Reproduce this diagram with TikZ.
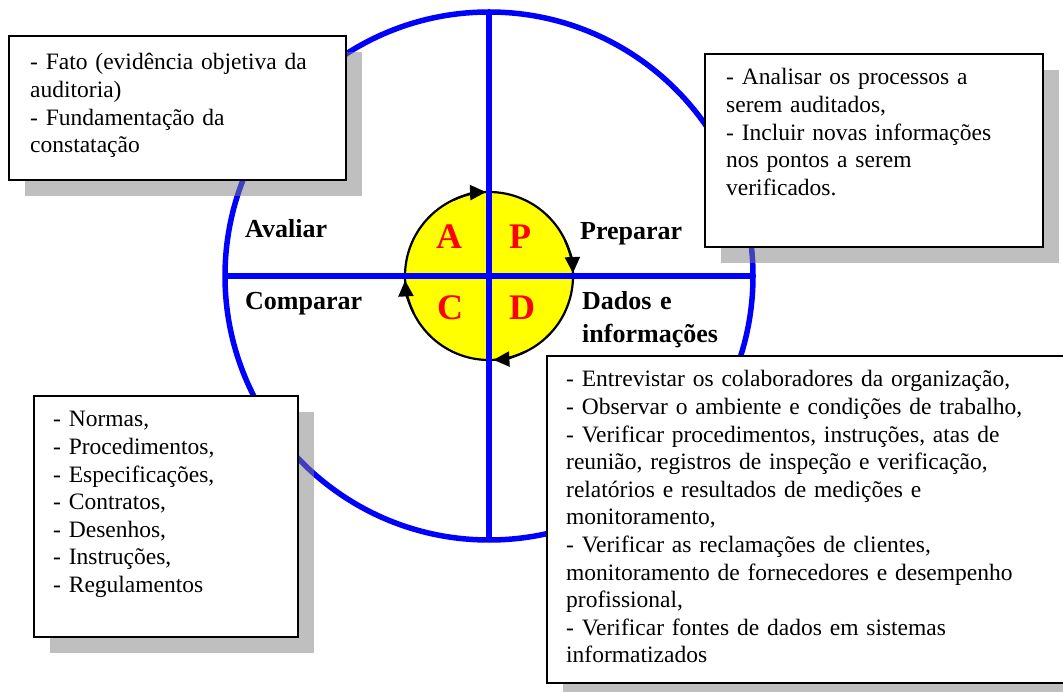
\documentclass[tikz,border=0pt]{standalone}
\usepackage{fontspec}
\setmainfont{Liberation Serif}
\usetikzlibrary{arrows.meta,shadows}
\definecolor{pdcablue}{RGB}{0,0,255}
\definecolor{pdcayellow}{RGB}{255,255,0}
\definecolor{pdcared}{RGB}{255,0,0}
\begin{document}
\begin{tikzpicture}[x=1pt,y=-1pt,
  ring/.style={draw=pdcablue, line width=5.5pt},
  axisline/.style={draw=pdcablue, line width=5.5pt},
  infobox/.style={draw=black, fill=white, line width=1.8pt, anchor=north west, inner sep=0pt,
    drop shadow={shadow xshift=16pt, shadow yshift=-16pt, fill=black!50, opacity=0.5}},
  boxtext/.style={anchor=base west, inner sep=0pt, text width=520pt, align=left,
    font=\fontsize{23.5}{27.6}\selectfont},
  phase/.style={anchor=base west, inner sep=0pt, text width=220pt, align=left,
    font=\bfseries\fontsize{26}{33}\selectfont},
  letter/.style={anchor=base, inner sep=0pt, text=pdcared, font=\bfseries\fontsize{36}{36}\selectfont},
  cyc/.style={-{Triangle[length=16pt,width=15pt]}, line width=2.2pt, draw=black}
]
\useasboundingbox (0,0) rectangle (1063,692);
\fill[white] (0,0) rectangle (1063,692);
\coordinate (c) at (489,276);
\coordinate (left) at (225,276);
\coordinate (right) at (753,276);
\coordinate (top) at (489,12);
\coordinate (bottom) at (489,540);
\draw[ring] (c) circle[radius=264];
\draw[draw=black, line width=2.2pt, fill=pdcayellow] (c) circle[radius=84];
\draw[axisline] (left) -- (right);
\draw[axisline] (top) -- (bottom);
% cycle arrows
\draw[cyc] (c) ++(-115:84) arc[start angle=-115, end angle=-92, radius=84];
\draw[cyc] (c) ++(-25:84) arc[start angle=-25, end angle=-2, radius=84];
\draw[cyc] (c) ++(64:84) arc[start angle=64, end angle=87, radius=84];
\draw[cyc] (c) ++(154:84) arc[start angle=154, end angle=177, radius=84];
% letters
\node[letter] (la) at (449,249) {A};
\node[letter] (lp) at (520,249) {P};
\node[letter] (lc) at (450,320) {C};
\node[letter] (ld) at (522,320) {D};
% phase labels
\node[phase] (avaliar) at (245,238) {Avaliar};
\node[phase] (preparar) at (580,240) {Preparar};
\node[phase] (comparar) at (245,310) {Comparar};
\node[phase] (dados) at (582,310) {Dados e\\informações};
% boxes
\node[infobox, minimum width=337pt, minimum height=144pt] (boxtl) at (8,35) {};
\node[boxtext] (texttl) at (30,70) {- Fato (evidência objetiva da\\auditoria)\\- Fundamentação da\\constatação};
\node[infobox, minimum width=338pt, minimum height=193pt] (boxtr) at (704,53) {};
\node[boxtext] (texttr) at (726,85) {- Analisar os processos a\\serem auditados,\\- Incluir novas informações\\nos pontos a serem\\verificados.};
\node[infobox, minimum width=264pt, minimum height=241pt] (boxbl) at (33,395) {};
\node[boxtext] (textbl) at (53,427) {- Normas,\\- Procedimentos,\\- Especificações,\\- Contratos,\\- Desenhos,\\- Instruções,\\- Regulamentos};
\node[infobox, minimum width=530pt, minimum height=327pt] (boxbr) at (546,355) {};
\node[boxtext] (textbr) at (566,387) {- Entrevistar os colaboradores da organização,\\- Observar o ambiente e condições de trabalho,\\- Verificar procedimentos, instruções, atas de\\reunião, registros de inspeção e verificação,\\relatórios e resultados de medições e\\monitoramento,\\- Verificar as reclamações de clientes,\\monitoramento de fornecedores e desempenho\\profissional,\\- Verificar fontes de dados em sistemas\\informatizados};
\end{tikzpicture}
\end{document}
